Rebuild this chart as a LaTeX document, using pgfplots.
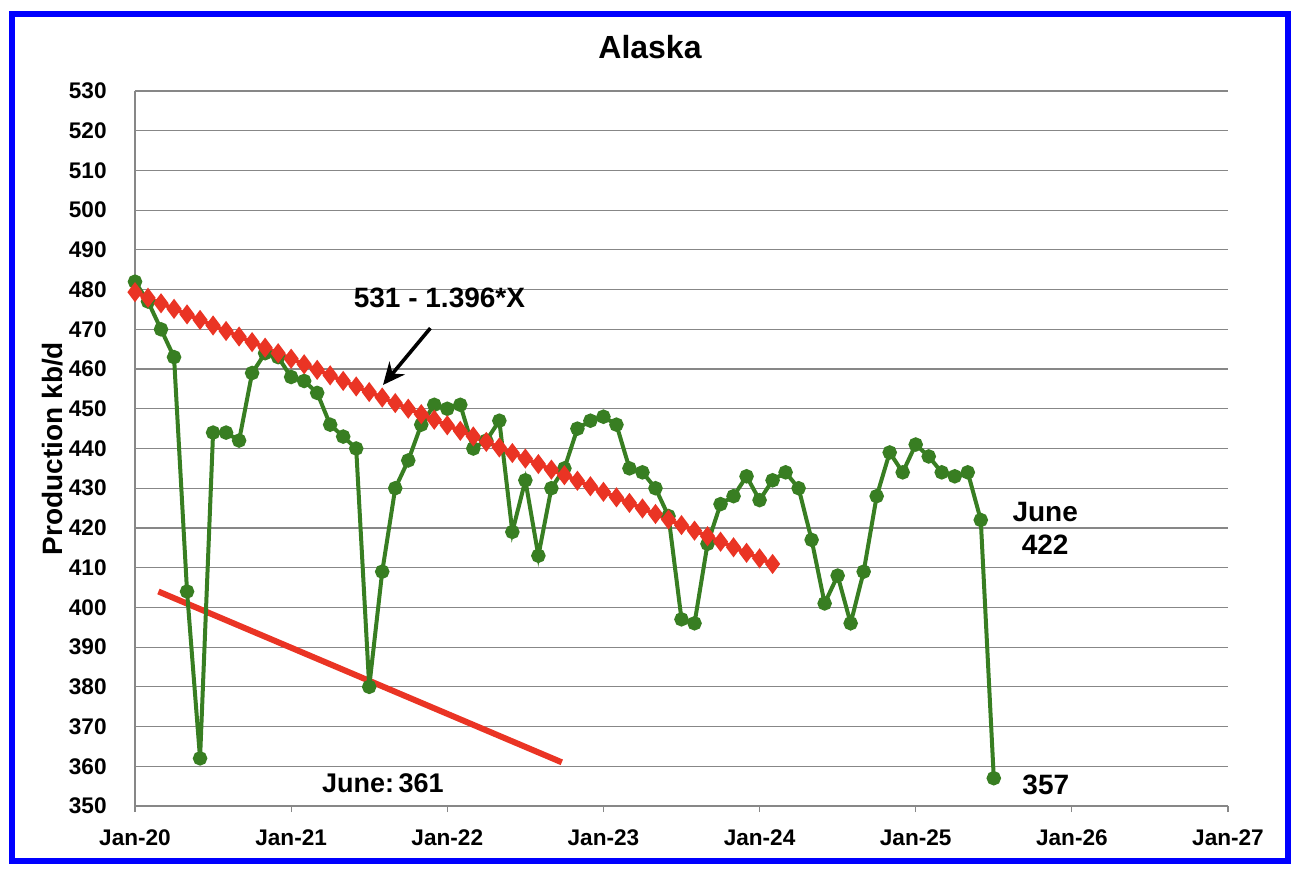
\documentclass[border=0pt]{standalone}
\usepackage{pgfplots}
\pgfplotsset{compat=1.18}
\usepackage{fontspec}
\setmainfont{Liberation Sans}
\usetikzlibrary{arrows.meta}
\definecolor{dgreen}{RGB}{56,126,34}
\definecolor{tred}{RGB}{234,52,36}
\definecolor{gridgray}{RGB}{135,135,135}
\begin{document}
\begin{tikzpicture}
\useasboundingbox (-67.5pt,-36pt) rectangle (584.5pt,403pt);
\draw[blue, line width=3pt] (-61.5pt,-27.5pt) rectangle (576.5pt,396pt);
\node[font=\bfseries\fontsize{16}{18}\selectfont] at (257.5pt,379.5pt) {Alaska};
\begin{axis}[
  at={(0,0)}, anchor=south west,
  scale only axis, width=546.5pt, height=357.5pt,
  xmin=0, xmax=84, ymin=350, ymax=530,
  axis x line=bottom, axis y line=left,
  axis line style={gridgray, line width=0.6pt, -},
  xtick={0,12,24,36,48,60,72,84},
  xticklabels={Jan-20,Jan-21,Jan-22,Jan-23,Jan-24,Jan-25,Jan-26,Jan-27},
  ytick={350,360,...,530},
  ymajorgrids, grid style={gridgray, line width=0.6pt},
  xtick style={gridgray, line width=0.6pt},
  ytick style={draw=none},
  tick align=outside, major tick length=3pt,
  /pgf/number format/assume math mode=true,
  ticklabel style={font=\bfseries\fontsize{11.3}{13}\selectfont},
  xticklabel style={anchor=center, yshift=-13pt},
  yticklabel style={anchor=east, inner sep=0pt, xshift=-11pt},
  ylabel={Production kb/d},
  ylabel style={font=\bfseries\fontsize{14}{16}\selectfont, at={(axis description cs:-0.075,0.5)}, anchor=center},
  clip=false,
]
% short red line
\addplot[tred, line width=3pt, no markers] coordinates {(1.8,404) (32.8,361)};
% production
\addplot[dgreen, line width=2pt, mark=*, mark size=2.6pt, mark options={fill=dgreen, draw=dgreen}] coordinates {
(0,482) (1,477) (2,470) (3,463) (4,404) (5,362) (6,444) (7,444) (8,442) (9,459) (10,464) (11,463)
(12,458) (13,457) (14,454) (15,446) (16,443) (17,440) (18,380) (19,409) (20,430) (21,437) (22,446) (23,451)
(24,450) (25,451) (26,440) (27,442) (28,447) (29,419) (30,432) (31,413) (32,430) (33,435) (34,445) (35,447)
(36,448) (37,446) (38,435) (39,434) (40,430) (41,423) (42,397) (43,396) (44,416) (45,426) (46,428) (47,433)
(48,427) (49,432) (50,434) (51,430) (52,417) (53,401) (54,408) (55,396) (56,409) (57,428) (58,439) (59,434)
(60,441) (61,438) (62,434) (63,433) (64,434) (65,422) (66,357)
};
% trend
\addplot[tred, line width=2pt, mark=diamond*, mark size=3.4pt, mark options={fill=tred, draw=tred}] coordinates {
(0,479.35) (1,477.95) (2,476.56) (3,475.16) (4,473.76) (5,472.37) (6,470.97) (7,469.58) (8,468.18) (9,466.78)
(10,465.39) (11,463.99) (12,462.60) (13,461.20) (14,459.80) (15,458.41) (16,457.01) (17,455.62) (18,454.22) (19,452.82)
(20,451.43) (21,450.03) (22,448.64) (23,447.24) (24,445.84) (25,444.45) (26,443.05) (27,441.66) (28,440.26) (29,438.86)
(30,437.47) (31,436.07) (32,434.68) (33,433.28) (34,431.88) (35,430.49) (36,429.09) (37,427.70) (38,426.30) (39,424.90)
(40,423.51) (41,422.11) (42,420.72) (43,419.32) (44,417.92) (45,416.53) (46,415.13) (47,413.74) (48,412.34) (49,410.94)
};
\node[font=\bfseries\fontsize{14}{16}\selectfont] at (axis cs:23.4,477.9) {531 - 1.396*X};
\draw[black, line width=1.8pt, -{Stealth[length=11pt,width=10pt]}] (axis cs:22.7,470.3) -- (axis cs:19.06,456);
\node[font=\bfseries\fontsize{13.5}{16}\selectfont] at (axis cs:19.06,355.8) {June:\,361};
\node[font=\bfseries\fontsize{14}{16.5}\selectfont, align=center] at (axis cs:69.95,420) {June\\422};
\node[font=\bfseries\fontsize{14}{16}\selectfont] at (axis cs:70,355.3) {357};
\end{axis}
\end{tikzpicture}
\end{document}
